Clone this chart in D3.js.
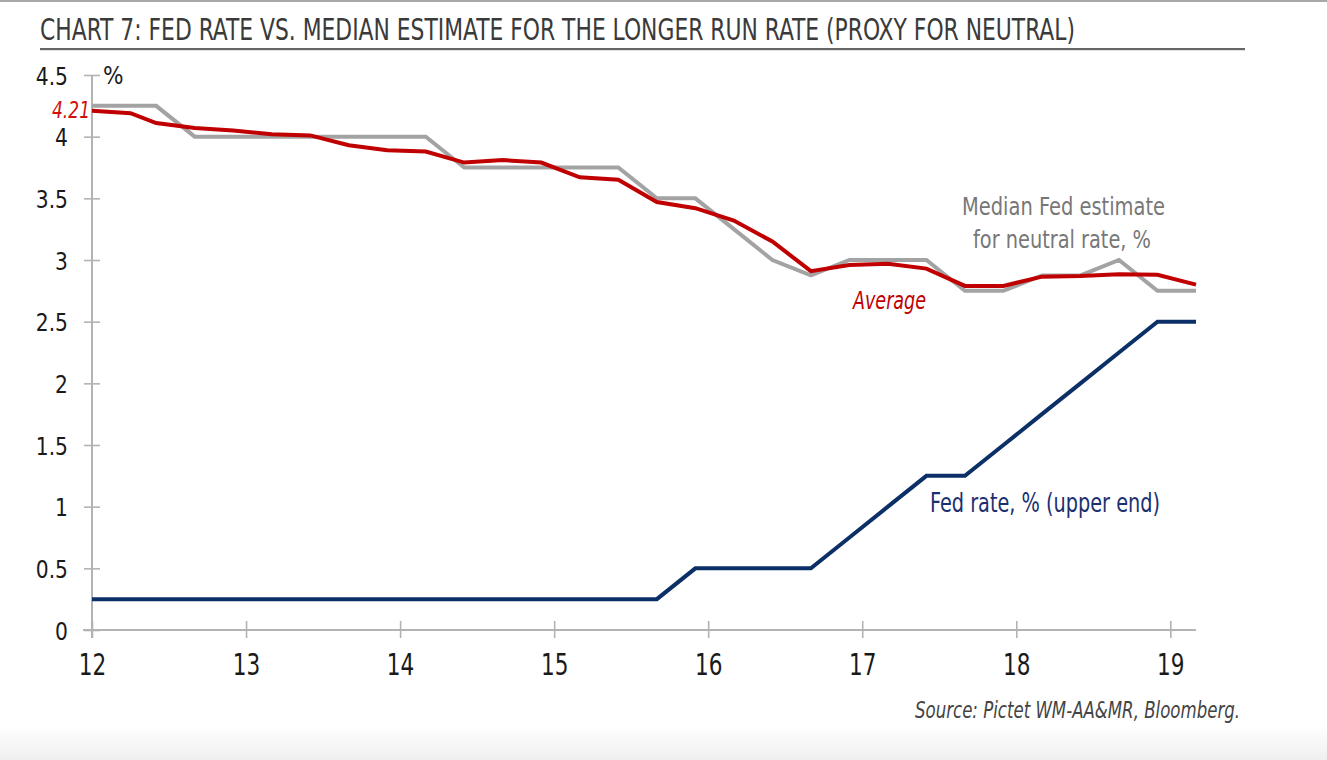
<!DOCTYPE html>
<html>
<head>
<meta charset="utf-8">
<script src="https://cdn.jsdelivr.net/npm/d3@7"></script>
<style>
  html, body { margin: 0; padding: 0; background: #fff; }
  svg { display: block; }
  text { font-family: "Liberation Sans Narrow", "DejaVu Sans Condensed", "Liberation Sans", sans-serif; }
</style>
</head>
<body>
<svg id="chart" width="1327" height="760"></svg>
<script>
// ---- data (FOMC projection dates) ----
const dates = ["2012-01","2012-04","2012-06","2012-09","2012-12","2013-03","2013-06","2013-09","2013-12",
  "2014-03","2014-06","2014-09","2014-12","2015-03","2015-06","2015-09","2015-12","2016-03","2016-06",
  "2016-09","2016-12","2017-03","2017-06","2017-09","2017-12","2018-03","2018-06","2018-09","2018-12","2019-03"];
const medianEstimate = [4.25,4.25,4.25,4.0,4.0,4.0,4.0,4.0,4.0,4.0,3.75,3.75,3.75,3.75,3.75,3.5,3.5,3.25,3.0,
  2.875,3.0,3.0,3.0,2.75,2.75,2.875,2.875,3.0,2.75,2.75];
const averageEstimate = [4.21,4.19,4.11,4.07,4.05,4.02,4.01,3.93,3.89,3.88,3.79,3.81,3.79,3.67,3.65,3.47,3.42,
  3.32,3.15,2.91,2.96,2.97,2.93,2.79,2.79,2.865,2.87,2.885,2.88,2.80];
const fedRate = [0.25,0.25,0.25,0.25,0.25,0.25,0.25,0.25,0.25,0.25,0.25,0.25,0.25,0.25,0.25,0.25,
  0.5,0.5,0.5,0.5,0.75,1.0,1.25,1.25,1.5,1.75,2.0,2.25,2.5,2.5];
const xTicks = [2012,2013,2014,2015,2016,2017,2018,2019];
const yTicks = [0,0.5,1,1.5,2,2.5,3,3.5,4,4.5];

const toYear = s => { const [y, m] = s.split("-").map(Number); return y + (m - 1) / 12; };
const xs = dates.map(toYear);

const svg = d3.select("#chart");
const W = 1327, H = 760;

// background frame
const defs = svg.append("defs");
const grad = defs.append("linearGradient").attr("id", "bottomFade").attr("x1", 0).attr("y1", 0).attr("x2", 0).attr("y2", 1);
grad.append("stop").attr("offset", "0%").attr("stop-color", "#ffffff");
grad.append("stop").attr("offset", "100%").attr("stop-color", "#efefef");
svg.append("rect").attr("x", 0).attr("y", 725).attr("width", W).attr("height", 35).attr("fill", "url(#bottomFade)");
svg.append("rect").attr("x", 0).attr("y", 0).attr("width", W).attr("height", 2).attr("fill", "#a8a8a8");

// title
svg.append("text").attr("x", 40).attr("y", 40)
  .attr("font-size", 30).attr("fill", "#3a3a3a")
  .attr("textLength", 1035).attr("lengthAdjust", "spacingAndGlyphs")
  .text("CHART 7: FED RATE VS. MEDIAN ESTIMATE FOR THE LONGER RUN RATE (PROXY FOR NEUTRAL)");
svg.append("rect").attr("x", 40).attr("y", 48).attr("width", 1205).attr("height", 2.2).attr("fill", "#666");

// scales
const x = d3.scaleLinear().domain([2012, toYear("2019-03")]).range([92, 1196]);
const y = d3.scaleLinear().domain([0, 4.5]).range([630, 75]);

const axisColor = "#b3b3b3";

// y axis
const gy = svg.append("g").attr("transform", `translate(${x.range()[0]},0)`)
  .call(d3.axisLeft(y).tickValues(yTicks).tickSize(8).tickPadding(16).tickFormat(d => String(d)));
gy.select(".domain").remove();
gy.selectAll(".tick line").attr("x1", -8).attr("x2", 8).attr("stroke", axisColor).attr("stroke-width", 1.6);
gy.selectAll(".tick text").attr("font-size", 25).attr("fill", "#1a1a1a")
  .attr("font-family", "'Liberation Sans Narrow', 'DejaVu Sans Condensed', sans-serif")
  .attr("transform", "translate(-24,0) scale(0.9,1)").attr("x", 0).attr("dy", "0.36em");
svg.append("line").attr("x1", x.range()[0]).attr("x2", x.range()[0])
  .attr("y1", y.range()[0] + 8).attr("y2", y.range()[1])
  .attr("stroke", axisColor).attr("stroke-width", 2);

// x axis
const gx = svg.append("g").attr("transform", `translate(0,${y.range()[0]})`)
  .call(d3.axisBottom(x).tickValues(xTicks).tickSize(8).tickFormat(d => String(d).slice(2)));
gx.select(".domain").remove();
gx.selectAll(".tick line").attr("y1", -9).attr("y2", 8).attr("stroke", axisColor).attr("stroke-width", 1.6);
gx.selectAll(".tick text").attr("font-size", 30).attr("fill", "#1a1a1a")
  .attr("font-family", "'Liberation Sans Narrow', 'DejaVu Sans Condensed', sans-serif")
  .attr("y", 0).attr("dy", 0).attr("transform", "translate(0,45) scale(0.8,1)");
svg.append("line").attr("x1", x.range()[0] - 9).attr("x2", x.range()[1])
  .attr("y1", y.range()[0]).attr("y2", y.range()[0])
  .attr("stroke", axisColor).attr("stroke-width", 2);

// % unit label
svg.append("text").attr("x", 103).attr("y", 84).attr("font-size", 24).attr("fill", "#1a1a1a").text("%");

// lines
const line = vals => d3.line().x((d, i) => x(xs[i])).y(d => y(d))(vals);
svg.append("path").attr("d", line(fedRate)).attr("fill", "none").attr("stroke", "#0b2f66").attr("stroke-width", 4);
svg.append("path").attr("d", line(medianEstimate)).attr("fill", "none").attr("stroke", "#a3a3a3").attr("stroke-width", 4);
svg.append("path").attr("d", line(averageEstimate)).attr("fill", "none").attr("stroke", "#c00000").attr("stroke-width", 4);

// annotations
svg.append("text").attr("x", 90).attr("y", y(averageEstimate[0]) + 7).attr("text-anchor", "end")
  .attr("font-size", 23).attr("font-style", "italic").attr("fill", "#d01010")
  .attr("textLength", 38).attr("lengthAdjust", "spacingAndGlyphs")
  .text(d3.format(".2f")(averageEstimate[0]));
svg.append("text").attr("x", 962).attr("y", 215).attr("font-size", 25).attr("fill", "#777")
  .attr("textLength", 203).attr("lengthAdjust", "spacingAndGlyphs").text("Median Fed estimate");
svg.append("text").attr("x", 973).attr("y", 248).attr("font-size", 25).attr("fill", "#777")
  .attr("textLength", 178).attr("lengthAdjust", "spacingAndGlyphs").text("for neutral rate, %");
svg.append("text").attr("x", 853).attr("y", 309).attr("font-size", 25).attr("font-style", "italic").attr("fill", "#c00000")
  .attr("textLength", 73).attr("lengthAdjust", "spacingAndGlyphs").text("Average");
svg.append("text").attr("x", 930).attr("y", 512).attr("font-size", 26).attr("fill", "#1c2f6e")
  .attr("textLength", 230).attr("lengthAdjust", "spacingAndGlyphs").text("Fed rate, % (upper end)");
svg.append("text").attr("x", 915).attr("y", 718).attr("font-size", 23).attr("font-style", "italic").attr("fill", "#444")
  .attr("textLength", 325).attr("lengthAdjust", "spacingAndGlyphs").text("Source: Pictet WM-AA&MR, Bloomberg.");
</script>
</body>
</html>
